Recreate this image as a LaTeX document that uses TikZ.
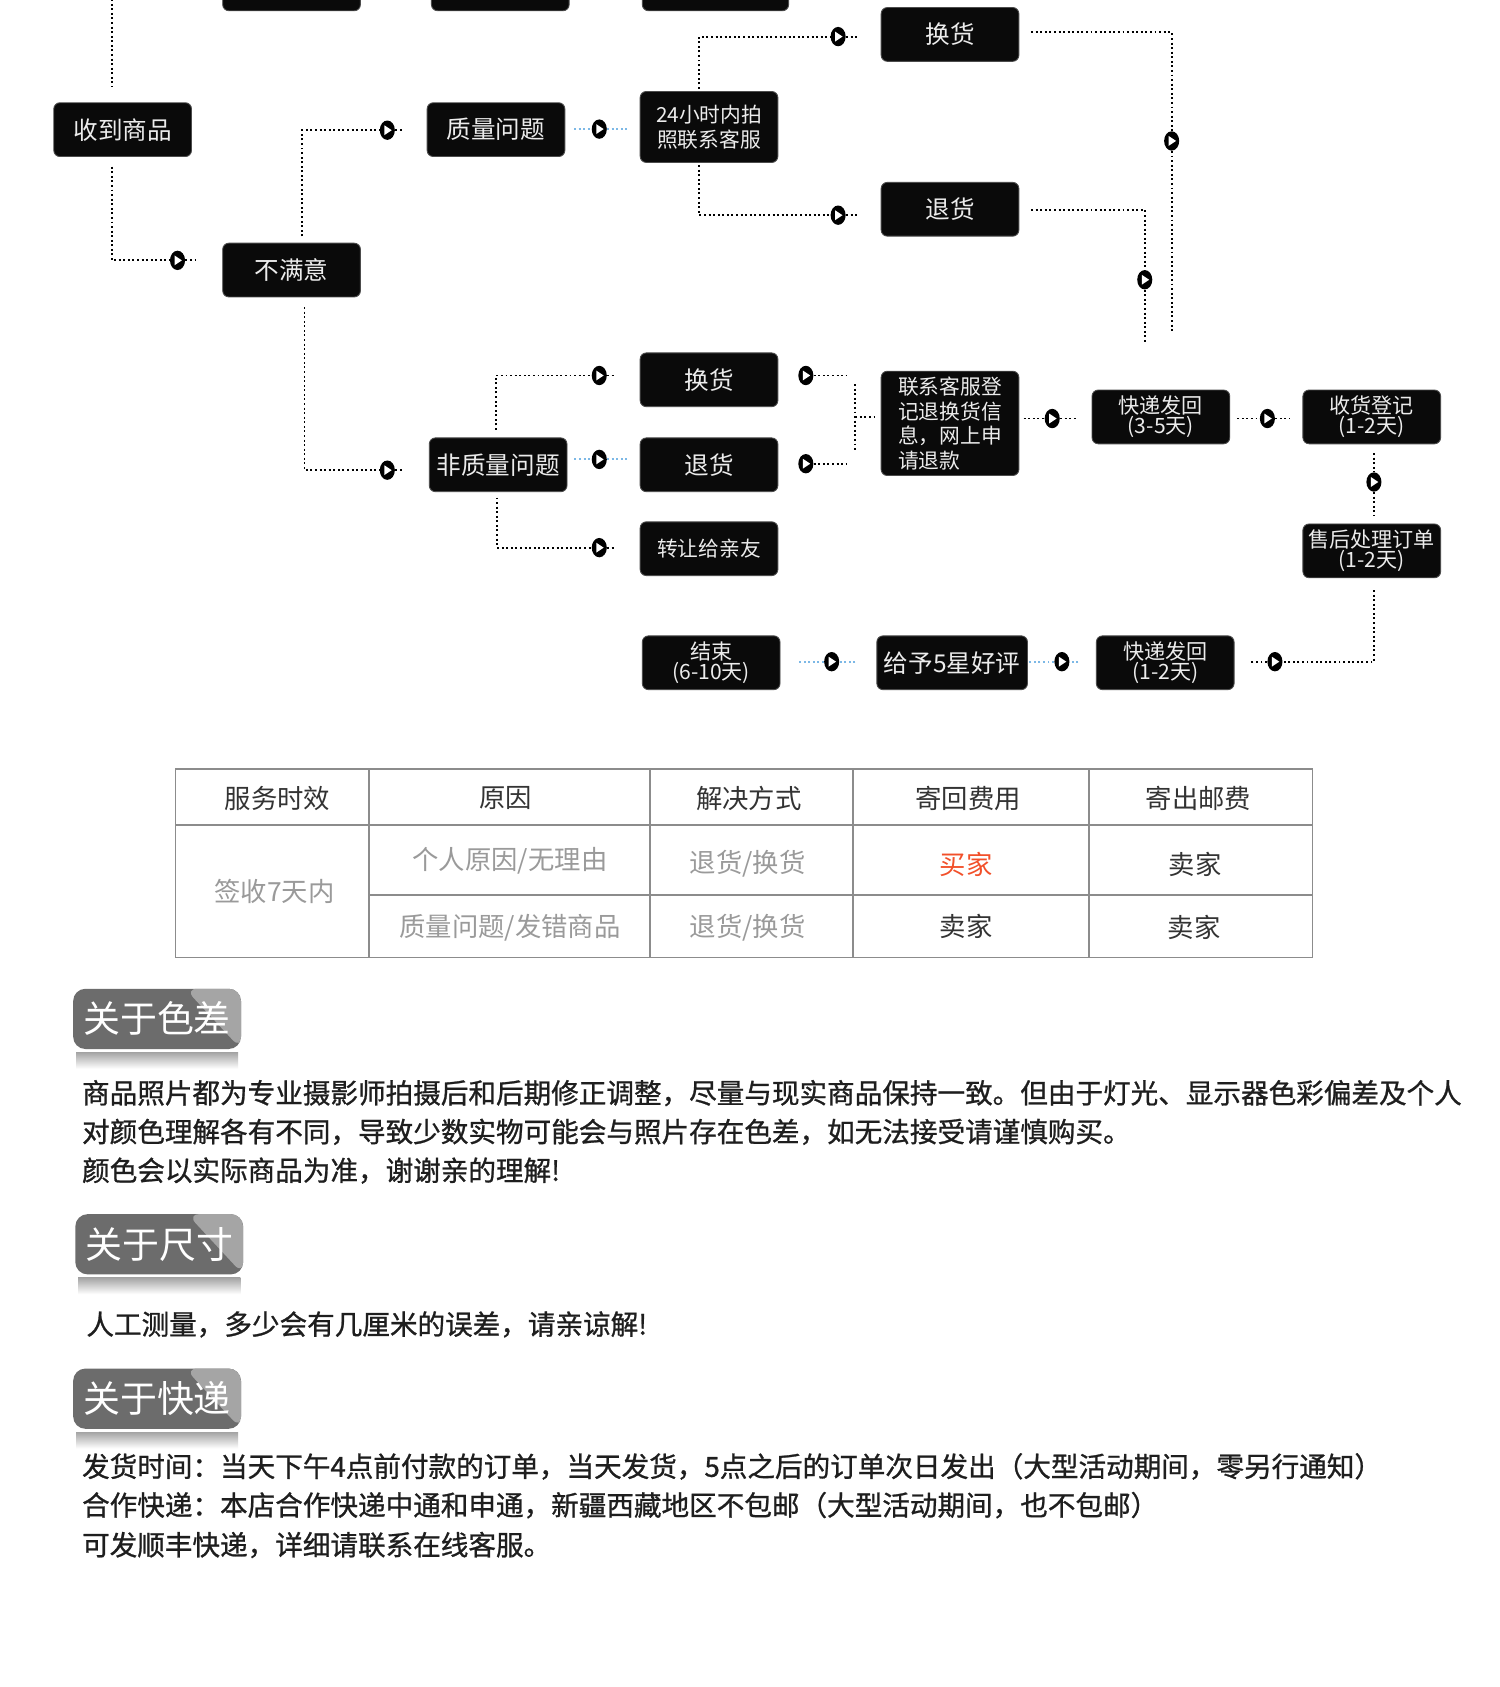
\documentclass[tikz,border=0pt]{standalone}
\usepackage{fontspec}
\setmainfont{Noto Sans CJK SC}
\newfontfamily\notefont{Noto Sans CJK SC}[FakeBold=0.9]
\usetikzlibrary{positioning, calc, shapes.geometric, backgrounds}
\definecolor{boxblack}{HTML}{0A0A0A}
\definecolor{boxtext}{HTML}{ECECEC}
\definecolor{linkblue}{HTML}{7CB8E6}
\definecolor{gridgray}{HTML}{8C8C8C}
\definecolor{headtext}{HTML}{333333}
\definecolor{softtext}{HTML}{9A9A9A}
\definecolor{buyerred}{HTML}{F2502A}
\definecolor{bodytext}{HTML}{1E1E1E}
\definecolor{badgedark}{HTML}{6C6C6C}
\definecolor{badgelight}{HTML}{A5A5A5}
\newcommand{\pxu}{0.021521cm}
\newcommand{\setfs}[2]{\fontsize{#1}{#2}\selectfont}
\tikzset{
  stepbox/.style = {rectangle, rounded corners=3.5pt, fill=boxblack, draw=black!70,
                    line width=0.5pt, text=boxtext, inner sep=0pt, align=center,
                    minimum width=128*\pxu, minimum height=50*\pxu, font=\setfs{14}{16}},
  small text/.style = {font=\setfs{11.8}{14}},
  tight text/.style = {font=\setfs{12}{11.6}},
  mk/.style = {ellipse, fill=black, inner sep=0pt, minimum width=14*\pxu,
               minimum height=18*\pxu,
               path picture={\fill[white, shift={(path picture bounding box.center)}, rotate=#1]
                 (-1.7pt,2.8pt) -- (2.5pt,0pt) -- (-1.7pt,-2.8pt) -- cycle;}},
  mk/.default = 0,
  link/.style = {draw=black, line width=1.1pt, dash pattern=on 1.1pt off 1.5pt},
  link blue/.style = {link, draw=linkblue},
  gap/.style = {shorten >=#1},
  lead/.style = {shorten <=#1},
  grid line/.style = {draw=gridgray, line width=0.9pt},
  cell/.style = {font=\setfs{15}{17}, text=headtext, inner sep=0pt},
  soft cell/.style = {cell, text=softtext},
  badge/.style = {rectangle, rounded corners=7pt, fill=badgedark, text=white,
                  inner sep=0pt, minimum width=156*\pxu, minimum height=56*\pxu,
                  font=\setfs{21}{23},
                  path picture={\fill[badgelight]
                    ($(path picture bounding box.north east)+(-52,0)$)
                    -- (path picture bounding box.north east)
                    -- (path picture bounding box.south east) -- cycle;}},
  body/.style = {anchor=west, inner sep=0pt, text=bodytext, font=\notefont\setfs{15.7}{22}},
}

\begin{document}
\begin{tikzpicture}[x=\pxu, y=-\pxu]
\useasboundingbox (0,0) rectangle (1394,1568);

% ---- boxes cut off by the top edge
\node[stepbox] (prevA) at (271,-15) {};
\node[stepbox] (prevB) at (465,-15) {};
\node[stepbox, minimum width=136*\pxu] (prevC) at (665,-15) {};
\coordinate (topin) at (104,-5);

% ---- flow boxes
\node[stepbox] (recv) at (114,120.5) {收到商品};
\node[stepbox] (unsat) at (271,251) {不满意};
\node[stepbox] (qual) at (461,120.5) {质量问题};
\node[stepbox, small text, minimum height=66*\pxu] (photo) at (659,118) {24小时内拍\\照联系客服};
\node[stepbox] (exA) at (883,32) {换货};
\node[stepbox] (retA) at (883,194.5) {退货};
\node[stepbox] (nonq) at (463,432) {非质量问题};
\node[stepbox] (exB) at (659,353) {换货};
\node[stepbox] (retB) at (659,432) {退货};
\node[stepbox, small text] (gift) at (659,510) {转让给亲友};
\node[stepbox, small text, minimum height=97*\pxu, align=left] (reg) at (883,393.5)
  {联系客服登\\记退换货信\\息，网上申\\请退款};
\node[stepbox, tight text] (shipA) at (1079,387.5) {快递发回\\(3-5天)};
\node[stepbox, tight text] (recvreg) at (1275,387.5) {收货登记\\(1-2天)};
\node[stepbox, tight text] (proc) at (1275,512) {售后处理订单\\(1-2天)};
\node[stepbox, tight text] (shipB) at (1083,616) {快递发回\\(1-2天)};
\node[stepbox, minimum width=140*\pxu] (rate) at (885,616) {给予5星好评};
\node[stepbox, tight text] (done) at (661,616) {结束\\(6-10天)};

% ---- direction markers
\node[mk] (m1) at (165,242) {};
\node[mk] (m2) at (360,121) {};
\node[mk] (m3) at (557,120) {};
\node[mk] (m4) at (779,34) {};
\node[mk] (m5) at (779,200) {};
\node[mk=-90] (m6) at (1089,131) {};
\node[mk=-90] (m7) at (1064,260) {};
\node[mk] (m8) at (360,437) {};
\node[mk] (m9) at (557,349) {};
\node[mk] (m10) at (557,427) {};
\node[mk] (m11) at (557,509) {};
\node[mk] (m12) at (749,349) {};
\node[mk] (m13) at (749,431) {};
\node[mk] (m14) at (978,389) {};
\node[mk] (m15) at (1178,389) {};
\node[mk=-90] (m16) at (1277,448) {};
\node[mk=180] (m17) at (1185,615) {};
\node[mk=180] (m18) at (987,615) {};
\node[mk=180] (m19) at (773,615) {};

\coordinate (endA) at (1089,310);
\coordinate (endB) at (1064,320);
\coordinate (e12) at (787,349);
\coordinate (e13) at (787,431);
\coordinate (brT) at (795,357);
\coordinate (brB) at (795,420);
\coordinate (brM) at (795,388);

% ---- dotted connectors under the markers
\begin{scope}[on background layer]
  \fill[white] (0,0) rectangle (1394,1568);
  \draw[link] (topin) -- ($(recv.north)+(-10,-15)$);
  \draw[link] ($(recv.south)+(-10,9)$) |- (m1);
  \draw[link, gap=15pt] (m1) -- (m1 -| unsat.west);
  \draw[link] ($(unsat.north)+(10,-6)$) |- (m2);
  \draw[link, gap=14pt] (m2) -- (m2 -| qual.west);
  \draw[link blue, lead=5pt] (m3 -| qual.east) -- (m3);
  \draw[link blue, gap=6pt] (m3) -- (m3 -| photo.west);
  \draw[link] ($(photo.north)+(-9,-2)$) |- (m4);
  \draw[link, gap=12pt] (m4) -- (m4 -| exA.west);
  \draw[link] ($(photo.south)+(-9,2)$) |- (m5);
  \draw[link, gap=12pt] (m5) -- (m5 -| retA.west);
  \draw[link] ($(exA.east)+(11,-2)$) -| (m6);
  \draw[link] (m6) -- (endA);
  \draw[link] ($(retA.east)+(11,0.5)$) -| (m7);
  \draw[link] (m7) -- (endB);
  \draw[link] ($(unsat.south)+(12,9)$) |- (m8);
  \draw[link, gap=14pt] (m8) -- (m8 -| nonq.west);
  \draw[link] ($(nonq.north)+(-2,-7)$) |- (m9);
  \draw[link, gap=14pt] (m9) -- (m9 -| exB.west);
  \draw[link blue, lead=4pt] (m10 -| nonq.east) -- (m10);
  \draw[link blue, gap=6pt] (m10) -- (m10 -| retB.west);
  \draw[link] ($(nonq.south)+(-1,5)$) |- (m11);
  \draw[link, gap=14pt] (m11) -- (m11 -| gift.west);
  \draw[link] (m12) -- (e12);
  \draw[link] (m13) -- (e13);
  \draw[link] (brT) -- (brB);
  \draw[link, gap=4pt] (brM) -- (brM -| reg.west);
  \draw[link, lead=2.5pt] (m14 -| reg.east) -- (m14);
  \draw[link, gap=9pt] (m14) -- (m14 -| shipA.west);
  \draw[link, lead=4pt] (m15 -| shipA.east) -- (m15);
  \draw[link, gap=7pt] (m15) -- (m15 -| recvreg.west);
  \draw[link, lead=5pt] ($(recvreg.south)+(2,0)$) -- (m16);
  \draw[link, gap=4pt] (m16) -- ($(proc.north)+(2,0)$);
  \draw[link] ($(proc.south)+(2,11)$) |- (m17);
  \draw[link, gap=9pt] (m17) -- (m17 -| shipB.east);
  \draw[link blue, lead=10pt] (m18 -| shipB.west) -- (m18);
  \draw[link blue] (m18) -- (m18 -| rate.east);
  \draw[link blue, lead=12pt] (m19 -| rate.west) -- (m19);
  \draw[link blue, gap=10pt] (m19) -- (m19 -| done.east);
\end{scope}

% ---- after-sales table
\draw[grid line] (163,715) rectangle (1220,890);
\draw[grid line] (163,767) -- (1220,767);
\draw[grid line] (343,832) -- (1220,832);
\foreach \x in {343,604,793,1012}
  \draw[grid line] (\x,715) -- (\x,890);

\node[cell] (hTime) at (258,742) {服务时效};
\node[cell] (hWhy) at (470,742) {原因};
\node[cell] (hWay) at (696,742) {解决方式};
\node[cell] (hBack) at (900,742) {寄回费用};
\node[cell] (hOut) at (1114,742) {寄出邮费};
\node[soft cell] (cTime) at (255,829) {签收7天内};
\node[soft cell] (cWhy1) at (474,800) {个人原因/无理由};
\node[soft cell] (cWay1) at (695,803) {退货/换货};
\node[cell, text=buyerred] (cBack1) at (898,803) {买家};
\node[cell] (cOut1) at (1111,803) {卖家};
\node[soft cell] (cWhy2) at (474,862) {质量问题/发错商品};
\node[soft cell] (cWay2) at (695,862) {退货/换货};
\node[cell] (cBack2) at (898,861) {卖家};
\node[cell] (cOut2) at (1110,862) {卖家};

% ---- notes
\node[badge] (hueTag) at (146,947) {关于色差};
\node[badge] (sizeTag) at (148,1156.5) {关于尺寸};
\node[badge] (postTag) at (146,1300) {关于快递};
\foreach \t in {hueTag, sizeTag, postTag}
  \shade[top color=black!35, bottom color=white]
    ($(\t.south west)+(3,3)$) rectangle ($(\t.south east)+(-3,18)$);

\node[body] (hue1) at (76,1016) {商品照片都为专业摄影师拍摄后和后期修正调整，尽量与现实商品保持一致。但由于灯光、显示器色彩偏差及个人};
\node[body] (hue2) at (76,1052) {对颜色理解各有不同，导致少数实物可能会与照片存在色差，如无法接受请谨慎购买。};
\node[body] (hue3) at (76,1088) {颜色会以实际商品为准，谢谢亲的理解!};
\node[body] (size1) at (80,1231) {人工测量，多少会有几厘米的误差，请亲谅解!};
\node[body] (post1) at (76,1363) {发货时间：当天下午4点前付款的订单，当天发货，5点之后的订单次日发出（大型活动期间，零另行通知）};
\node[body] (post2) at (76,1399) {合作快递：本店合作快递中通和申通，新疆西藏地区不包邮（大型活动期间，也不包邮）};
\node[body] (post3) at (76,1436) {可发顺丰快递，详细请联系在线客服。};
\end{tikzpicture}
\end{document}
